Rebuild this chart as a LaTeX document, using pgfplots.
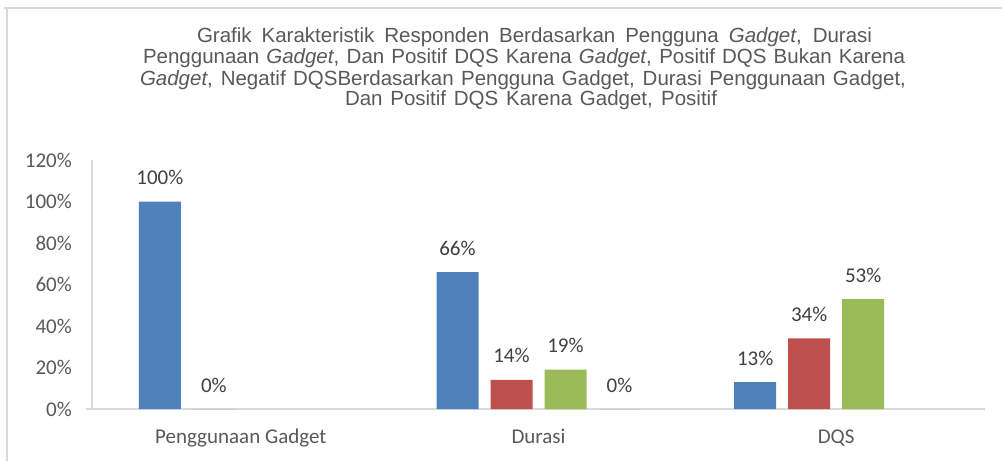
\documentclass[border=0pt]{standalone}
\usepackage{fontspec}
\setmainfont{Carlito}
\newfontfamily\titlefont{Liberation Sans}
\usepackage{pgfplots}
\pgfplotsset{compat=1.18}

\definecolor{cblue}{HTML}{4F81BD}
\definecolor{cred}{HTML}{C0504D}
\definecolor{cgreen}{HTML}{9BBB59}
\definecolor{cpurple}{HTML}{8064A2}
\definecolor{axisgray}{HTML}{D9D9D9}
\definecolor{tickgray}{HTML}{595959}
\definecolor{labelgray}{HTML}{404040}

\begin{document}
\begin{tikzpicture}
\useasboundingbox (0,0) rectangle (1002pt,-461pt);
\fill[white] (0,0) rectangle (1002pt,-461pt);
% outer frame (top and left only)
\draw[axisgray, line width=1.5pt] (4pt,-8pt) -- (1002pt,-8pt);
\draw[axisgray, line width=1.5pt] (7pt,-8pt) -- (7pt,-461pt);

% title, four lines
\begin{scope}[every node/.style={anchor=base, inner sep=0pt, text=tickgray,
    font=\titlefont\fontsize{20.5}{22}\selectfont}]
\node at (534.5pt,-42.7pt) {\makebox[675pt][s]{Grafik Karakteristik Responden Berdasarkan Pengguna \textit{Gadget}, Durasi}};
\node at (524pt,-63.5pt) {\makebox[762pt][s]{Penggunaan \textit{Gadget}, Dan Positif DQS Karena \textit{Gadget}, Positif DQS Bukan Karena}};
\node at (523pt,-85pt) {\makebox[766pt][s]{\textit{Gadget}, Negatif DQSBerdasarkan Pengguna Gadget, Durasi Penggunaan Gadget,}};
\node at (531pt,-105.7pt) {\makebox[372pt][s]{Dan Positif DQS Karena Gadget, Positif}};
\end{scope}

\begin{axis}[
    at={(92pt,-409pt)}, anchor=south west,
    scale only axis, width=893pt, height=249pt,
    xmin=-0.5, xmax=2.5, ymin=0, ymax=120,
    axis lines=left,
    axis line style={-, draw=axisgray, line width=1.5pt},
    xtick={0,1,2},
    xticklabels={Penggunaan Gadget, Durasi, DQS},
    ytick={0,20,...,120},
    yticklabel={\pgfmathprintnumber{\tick}\%},
    major tick length=0pt,
    /pgf/number format/assume math mode=true,
    tick label style={font=\fontsize{21}{25}\selectfont, text=tickgray, inner sep=0pt},
    yticklabel style={anchor=east, xshift=-20pt},
    xticklabel style={anchor=base, yshift=-34.5pt},
    ybar=12pt, bar width=42pt,
    nodes near coords={\pgfmathprintnumber{\pgfplotspointmeta}\%},
    every node near coord/.append style={font=\fontsize{21}{25}\selectfont,
        text=labelgray, anchor=base, yshift=17pt, inner sep=0pt},
    clip=false,
]
\addplot[fill=cblue, draw=none] coordinates {(0,100) (1,66) (2,13)};
\addplot[fill=cred, draw=none] coordinates {(0,0) (1,14) (2,34)};
\addplot[fill=cgreen, draw=none] coordinates {(1,19) (2,53)};
\addplot[fill=cpurple, draw=none] coordinates {(1,0)};
\draw[axisgray, line width=1.5pt] ([xshift=-6pt]rel axis cs:0,0) -- (rel axis cs:0,0);
\end{axis}
\end{tikzpicture}
\end{document}
